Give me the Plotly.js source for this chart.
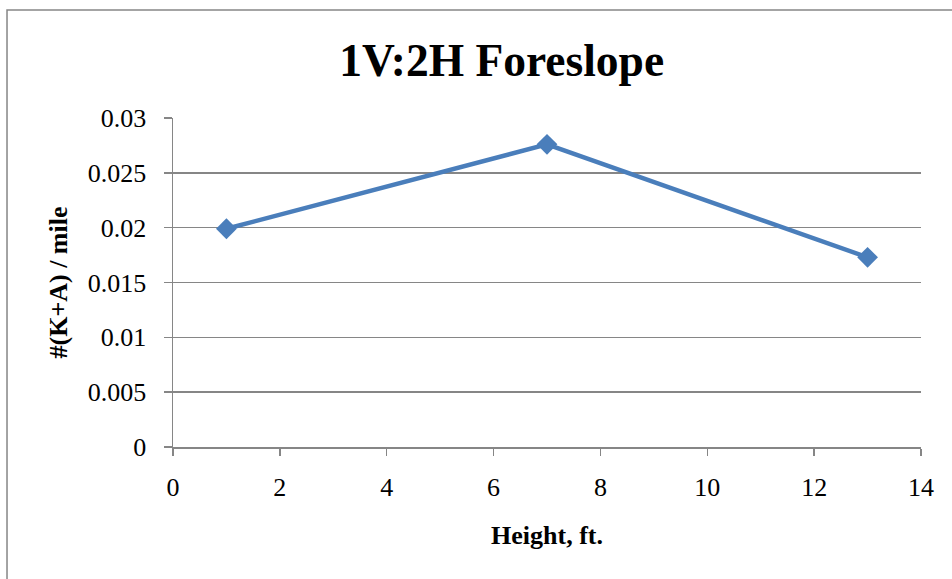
<!DOCTYPE html>
<html>
<head>
<meta charset="utf-8">
<script src="https://cdn.plot.ly/plotly-3.0.1.min.js"></script>
<style>
html,body{margin:0;padding:0;background:#fff;}
#chart{width:952px;height:579px;}
</style>
</head>
<body>
<div id="chart"></div>
<script>
var heights = [1, 7, 13];
var kaPerMile = [0.0199, 0.0276, 0.0173];
var titleText = '1V:2H Foreslope';
var xTitle = 'Height, ft.';
var yTitle = '#(K+A) / mile';

var serif = '"Liberation Serif", "Times New Roman", serif';
var gray = '#868686';

var trace = {
  x: heights,
  y: kaPerMile,
  type: 'scatter',
  mode: 'lines+markers',
  line: {color: '#4a7ebb', width: 4.5},
  marker: {symbol: 'diamond', size: 16, color: '#4a7ebb'},
  showlegend: false,
  hoverinfo: 'x+y'
};

var layout = {
  width: 952,
  height: 579,
  margin: {l: 173, r: 31, t: 118, b: 132},
  paper_bgcolor: '#ffffff',
  plot_bgcolor: '#ffffff',
  font: {family: serif, color: '#000000', size: 26},
  title: {
    text: '<b>' + titleText + '</b>',
    font: {family: serif, size: 45.5, color: '#000000'},
    x: 0.527, xref: 'container', xanchor: 'center',
    y: 0.897, yref: 'container', yanchor: 'middle'
  },
  xaxis: {
    range: [0, 14],
    dtick: 2,
    tick0: 0,
    showgrid: false,
    zeroline: false,
    showline: true,
    linecolor: gray,
    linewidth: 1.5,
    ticks: 'outside',
    ticklen: 7,
    tickwidth: 1.5,
    tickcolor: gray,
    tickfont: {family: serif, size: 26, color: '#000'},
    ticklabelstandoff: 9,
    title: {text: '<b>' + xTitle + '</b>', font: {family: serif, size: 26, color: '#000'}, standoff: 25}
  },
  yaxis: {
    range: [0, 0.03],
    dtick: 0.005,
    tick0: 0,
    showgrid: true,
    gridcolor: gray,
    gridwidth: 1.5,
    zeroline: false,
    showline: true,
    linecolor: gray,
    linewidth: 1.5,
    ticks: 'outside',
    ticklen: 8,
    tickwidth: 1.5,
    tickcolor: gray,
    tickfont: {family: serif, size: 26, color: '#000'},
    ticklabelstandoff: 12,
    title: {text: '<b>' + yTitle + '</b>', font: {family: serif, size: 26, color: '#000'}, standoff: 12}
  },
  shapes: [{
    type: 'rect', xref: 'paper', yref: 'paper',
    x0: -0.2219, x1: 1.2, y0: -0.6, y1: 1.328,
    line: {color: gray, width: 1.5},
    fillcolor: 'rgba(0,0,0,0)',
    layer: 'below'
  }]
};

Plotly.newPlot('chart', [trace], layout, {displayModeBar: false, staticPlot: true});
</script>
</body>
</html>
